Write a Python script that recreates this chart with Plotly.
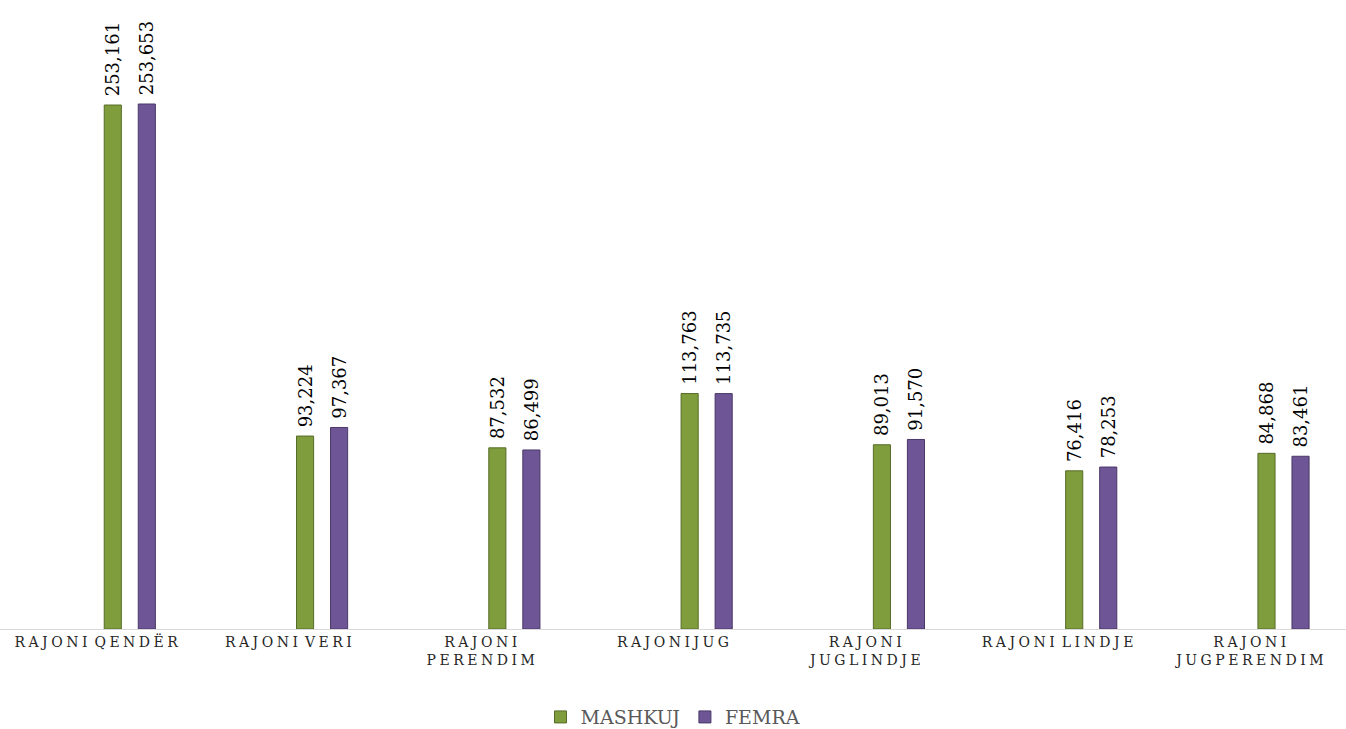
import plotly.graph_objects as go

regions = ["RAJONI QENDËR", "RAJONI VERI", "RAJONI PERENDIM", "RAJONIJUG",
           "RAJONI JUGLINDJE", "RAJONI LINDJE", "RAJONI JUGPERENDIM"]
tick_labels = ["RAJONI QENDËR", "RAJONI VERI", "RAJONI<br>PERENDIM", "RAJONIJUG",
               "RAJONI<br>JUGLINDJE", "RAJONI LINDJE", "RAJONI<br>JUGPERENDIM"]
mashkuj = [253161, 93224, 87532, 113763, 89013, 76416, 84868]
femra = [253653, 97367, 86499, 113735, 91570, 78253, 83461]


def spaced(s):
    # widen letters like the original's character spacing
    out = []
    for line in s.split("<br>"):
        words = ["\u2005".join(w) for w in line.split(" ")]
        out.append("\u2002".join(words))
    return "<br>".join(out)


ticks = [spaced(t) for t in tick_labels]

fig = go.Figure()
fig.add_trace(go.Bar(
    x=regions, y=mashkuj, name="MASHKUJ",
    width=0.089, offset=0.042,
    marker=dict(color="#7F9D3D", line=dict(color="#566C27", width=1)),
    texttemplate="\u00a0%{y:,}", textposition="outside", textangle=-90,
    cliponaxis=False, hoverinfo="none",
))
fig.add_trace(go.Bar(
    x=regions, y=femra, name="FEMRA",
    width=0.089, offset=0.219,
    marker=dict(color="#6E5596", line=dict(color="#4A3868", width=1)),
    texttemplate="\u00a0%{y:,}", textposition="outside", textangle=-90,
    cliponaxis=False, hoverinfo="none",
))

fig.update_layout(
    width=1346, height=729,
    barmode="overlay",
    paper_bgcolor="white", plot_bgcolor="white",
    margin=dict(l=0, r=0, t=0, b=100, autoexpand=False),
    font=dict(family="DejaVu Serif", color="black"),
    uniformtext=dict(minsize=17, mode="show"),
    xaxis=dict(
        tickmode="array", tickvals=regions, ticktext=ticks,
        range=[-0.5, 6.5],
        showline=True, linecolor="#D9D9D9", linewidth=1,
        ticks="", tickfont=dict(size=14, color="#262626"),
        showgrid=False, automargin=False,
    ),
    yaxis=dict(range=[0, 303900], visible=False, showgrid=False, automargin=False),
    legend=dict(orientation="h", x=0.5, xanchor="center", y=-0.14, yanchor="middle",
                font=dict(size=19, color="#595959"), itemwidth=30),
    showlegend=True,
)
fig.update_traces(textfont=dict(size=18, color="black", family="DejaVu Serif"))

# drop the browser's default 8px body margin so the figure fills the window
fig.write_html("out.html", config={"displayModeBar": False},
               post_script="document.body.style.margin='0';")
